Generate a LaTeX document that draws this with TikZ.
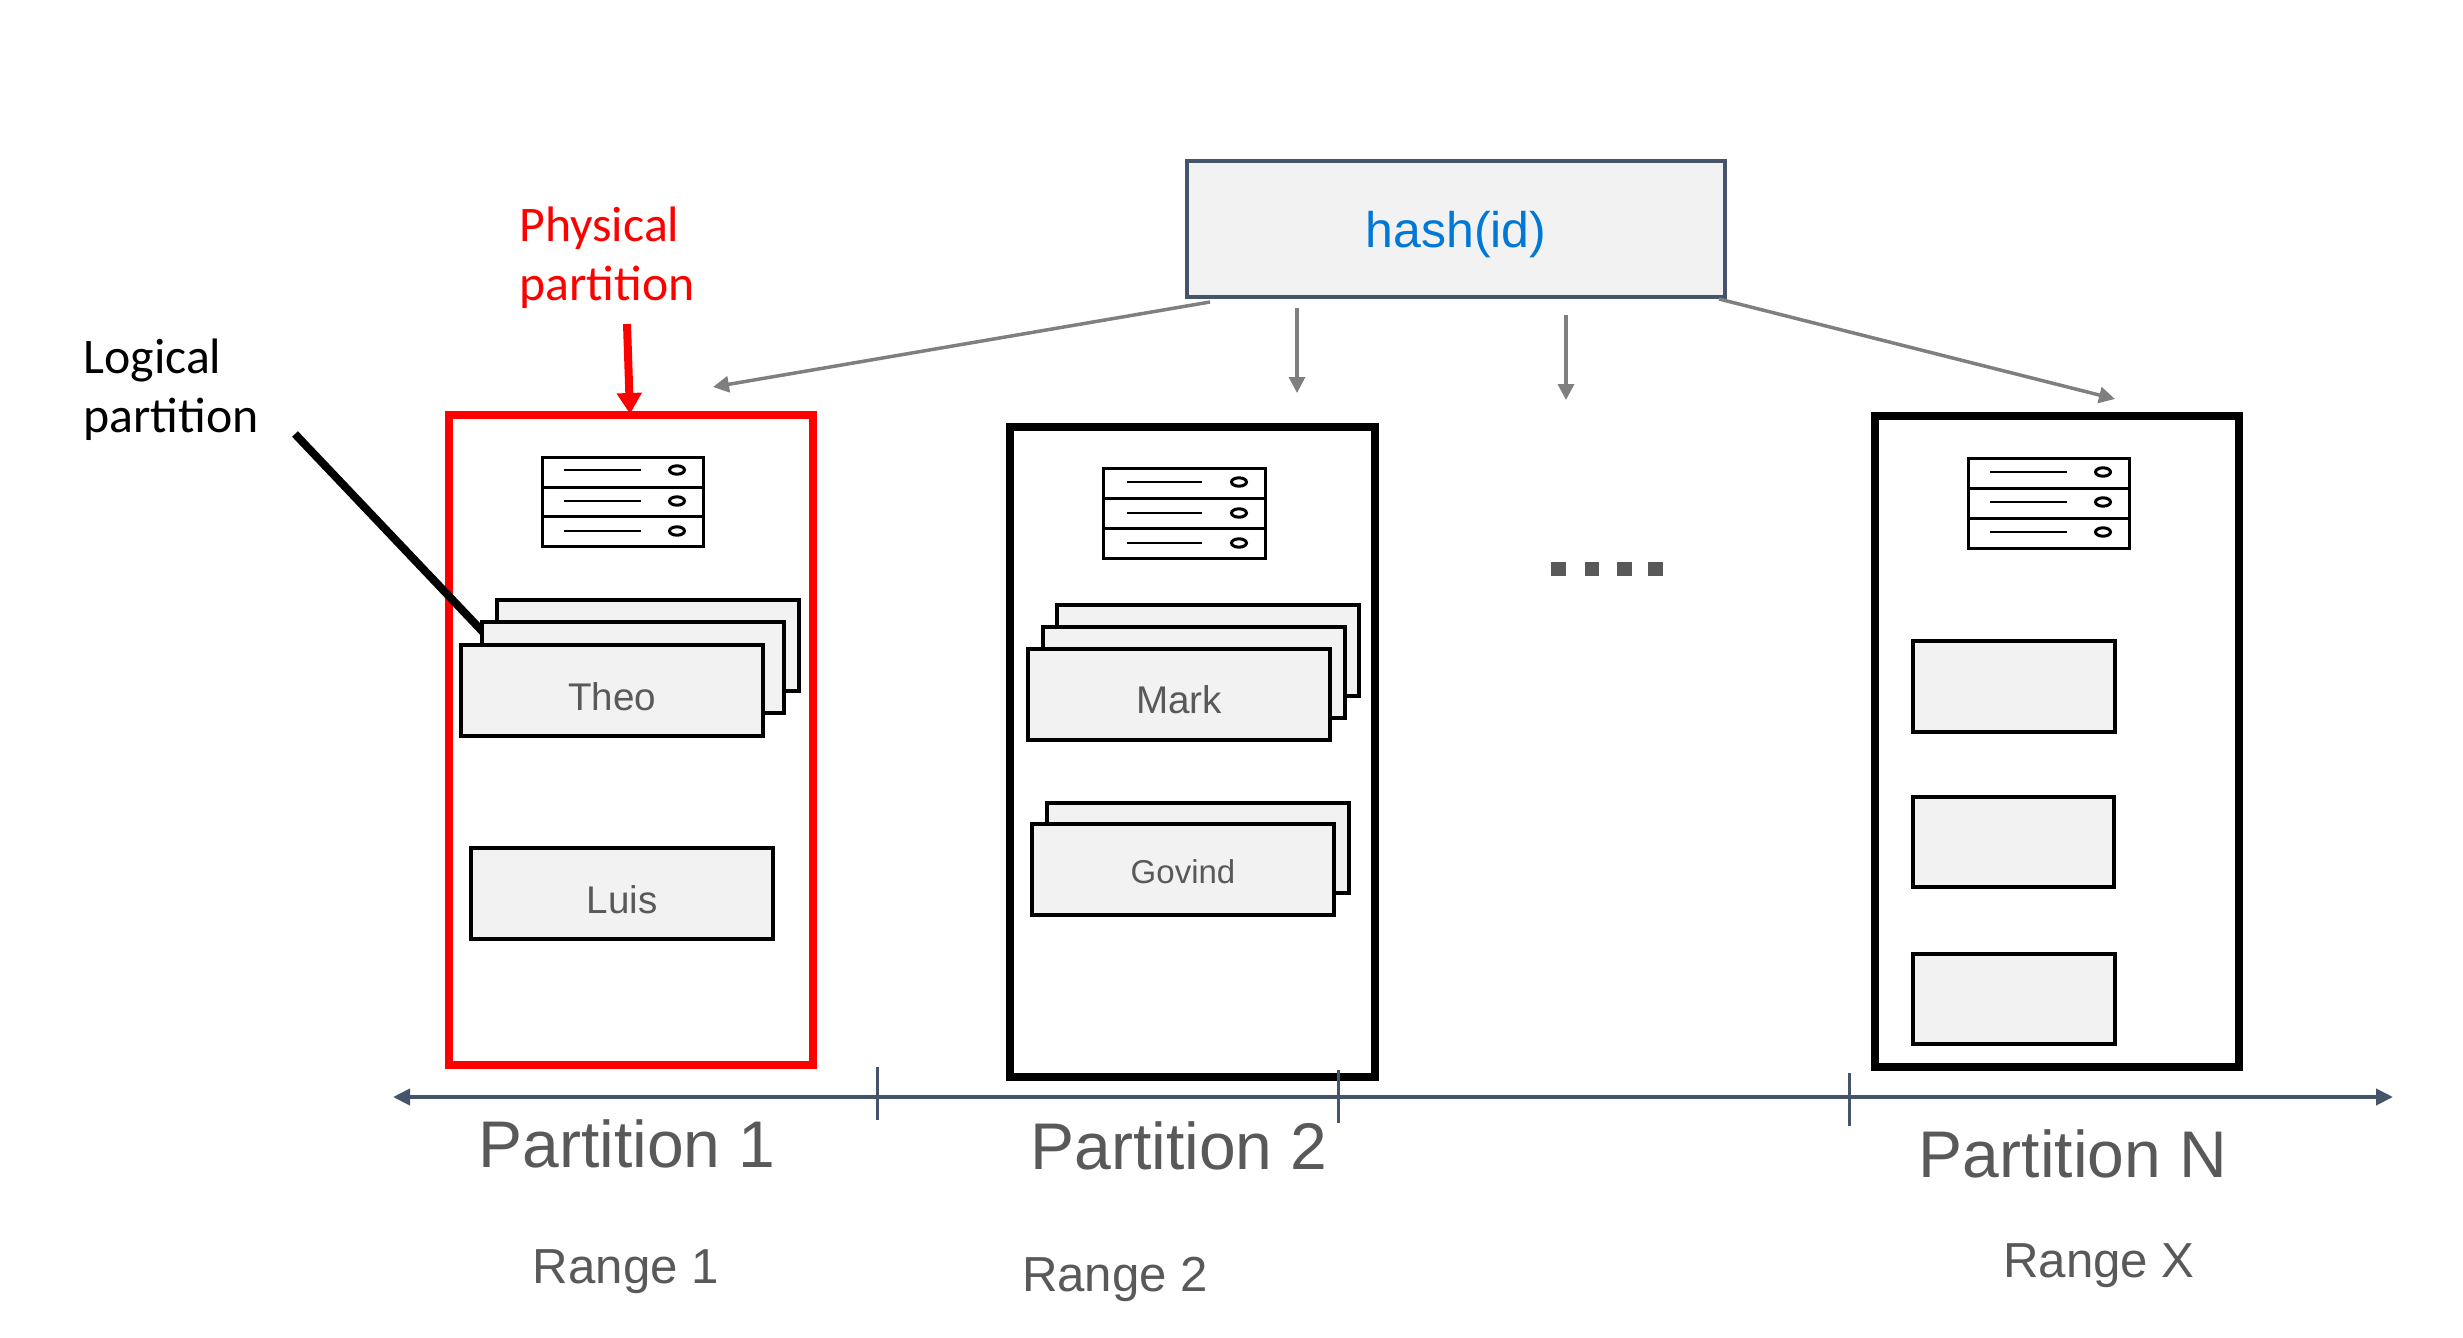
\documentclass[tikz,border=0pt]{standalone}
\usepackage{fontspec}
\setmainfont{Liberation Sans}
\newfontfamily\calfont{Carlito}
\usetikzlibrary{arrows.meta}
\definecolor{boxfill}{HTML}{F2F2F2}
\definecolor{slate}{HTML}{44546A}
\definecolor{txtgray}{HTML}{595959}
\definecolor{arrowgray}{HTML}{7F7F7F}
\definecolor{hashblue}{HTML}{0078D7}
\tikzset{
  rectbase/.style={rectangle,inner sep=0pt,outer sep=0pt,text height=0pt,text depth=0pt},
  partred/.style={draw=red,line width=4pt},
  partblack/.style={draw=black,line width=4pt},
  lpbox/.style={draw=black,fill=boxfill,line width=2pt,text=txtgray,font=\fontsize{19.3}{23}\selectfont},
  srvbox/.style={draw=black,fill=white,line width=1.5pt},
  hashbox/.style={draw=slate,fill=boxfill,line width=2pt,text=hashblue,font=\fontsize{25}{30}\selectfont},
  dotbox/.style={fill=txtgray},
  srvline/.style={draw=black,line width=1.4pt},
  srvled/.style={draw=black,line width=1.5pt},
  routearrow/.style={draw=arrowgray,line width=1.75pt,-{Triangle[length=8pt,width=8pt]}},
  axisline/.style={draw=slate,line width=2pt,{Triangle[length=8.5pt,width=8pt]}-{Triangle[length=8.5pt,width=8pt]}},
  tickline/.style={draw=slate,line width=1.5pt},
  partlabel/.style={anchor=base,text=txtgray,font=\fontsize{33}{39}\selectfont,inner sep=0pt},
  rangelabel/.style={anchor=base,text=txtgray,font=\fontsize{24.6}{29}\selectfont,inner sep=0pt},
  calllabel/.style={anchor=north west,align=left,inner sep=0pt,font=\calfont\fontsize{24.9}{29.5}\selectfont}
}
\newcommand\rectnode[7][]{%
  \node[rectbase,#2,#1,minimum width={(#5-#3)*0.5pt},minimum height={(#6-#4)*0.5pt}]
    at ({(#3+#5)/2},{(#4+#6)/2}) {#7};}
\newcommand\lift[2]{\raisebox{\dimexpr -#1pt/2\relax}{#2}}
\newcommand\srvrow[4]{%
  \draw[srvline] (#1,#4) -- (#2,#4);
  \draw[srvled] (#3,#4) ellipse (7.5 and 4.2);}
\begin{document}
\begin{tikzpicture}[x=0.5pt,y=-0.5pt]
\useasboundingbox (0,0) rectangle (2463,1338);
% partition frames
\rectnode[name=physone]{partred}{449}{415}{813}{1065}{}
\rectnode[name=phystwo]{partblack}{1010}{427}{1375}{1077}{}
\rectnode[name=physn]{partblack}{1875}{416}{2239}{1067}{}
% hash box
\rectnode[name=hash]{hashbox}{1187}{161}{1725}{297}{\lift{18}{hash(id)}}
% routing arrows
\coordinate (hashA) at (1210,302);
\coordinate (hashB) at (1297,308);
\coordinate (hashC) at (1566,315);
\coordinate (hashD) at (1719,299);
\coordinate (toA) at (713,387);
\coordinate (toB) at (1297,393);
\coordinate (toC) at (1566,400);
\coordinate (toD) at (2115,399);
\draw[routearrow] (hashA) -- (toA);
\draw[routearrow] (hashB) -- (toB);
\draw[routearrow] (hashC) -- (toC);
\draw[routearrow] (hashD) -- (toD);
% callouts
\node[calllabel,text=red] (physlabel) at (519,207) {Physical\\partition};
\node[calllabel,text=black] (loglabel) at (83,339) {Logical\\partition};
\coordinate (physfrom) at (627,324);
\coordinate (phystip) at (630,414);
\draw[draw=red,line width=4pt,-{Triangle[length=10.5pt,width=12pt]}] (physfrom) -- (phystip);
\coordinate (logfrom) at (295,434);
\coordinate (logto) at (483,632);
\draw[draw=black,line width=4pt] (logfrom) -- (logto);
% server 1
\rectnode[name=sa1]{srvbox}{542}{457}{703}{487}{}
\rectnode[name=sa2]{srvbox}{542}{487}{703}{516}{}
\rectnode[name=sa3]{srvbox}{542}{516}{703}{546}{}
\srvrow{564}{641}{677}{470}
\srvrow{564}{641}{677}{501}
\srvrow{564}{641}{677}{531}
% server 2
\rectnode[name=sb1]{srvbox}{1103}{468}{1265}{498}{}
\rectnode[name=sb2]{srvbox}{1103}{498}{1265}{528}{}
\rectnode[name=sb3]{srvbox}{1103}{528}{1265}{558}{}
\srvrow{1127}{1202}{1239}{482}
\srvrow{1127}{1202}{1239}{513}
\srvrow{1127}{1202}{1239}{543}
% server N
\rectnode[name=sc1]{srvbox}{1968}{458}{2129}{488}{}
\rectnode[name=sc2]{srvbox}{1968}{488}{2129}{518}{}
\rectnode[name=sc3]{srvbox}{1968}{518}{2129}{548}{}
\srvrow{1990}{2067}{2103}{472}
\srvrow{1990}{2067}{2103}{502}
\srvrow{1990}{2067}{2103}{532}
% logical partitions, partition 1
\rectnode[name=theoC]{lpbox}{497}{600}{799}{691}{}
\rectnode[name=theoB]{lpbox}{482}{622}{784}{713}{}
\rectnode[name=theoA]{lpbox}{461}{645}{763}{736}{\lift{19.5}{Theo}}
\rectnode[name=luis]{lpbox}{471}{848}{773}{939}{\lift{19.5}{Luis}}
% logical partitions, partition 2
\rectnode[name=markC]{lpbox}{1057}{605}{1359}{696}{}
\rectnode[name=markB]{lpbox}{1043}{627}{1345}{718}{}
\rectnode[name=markA]{lpbox}{1028}{649}{1330}{740}{\lift{18.5}{Mark}}
\rectnode[name=govB]{lpbox}{1047}{803}{1349}{893}{}
\rectnode[name=govA,font=\fontsize{16.5}{20}\selectfont]{lpbox}{1032}{824}{1334}{915}{\lift{13.5}{Govind}}
% logical partitions, partition N
\rectnode[name=na]{lpbox}{1913}{641}{2115}{732}{}
\rectnode[name=nb]{lpbox}{1913}{797}{2114}{887}{}
\rectnode[name=nc]{lpbox}{1913}{954}{2115}{1044}{}
% ellipsis squares
\rectnode[name=dota]{dotbox}{1551}{562}{1566}{576}{}
\rectnode[name=dotb]{dotbox}{1585}{562}{1599}{576}{}
\rectnode[name=dotc]{dotbox}{1617}{562}{1632}{576}{}
\rectnode[name=dotd]{dotbox}{1648}{562}{1663}{576}{}
% axis
\coordinate (axisL) at (393,1097);
\coordinate (axisR) at (2393,1097);
\draw[axisline] (axisL) -- (axisR);
\coordinate (tA1) at (877,1067); \coordinate (tA2) at (877,1120);
\coordinate (tB1) at (1338,1070); \coordinate (tB2) at (1338,1123);
\coordinate (tC1) at (1849,1073); \coordinate (tC2) at (1849,1126);
\draw[tickline] (tA1) -- (tA2);
\draw[tickline] (tB1) -- (tB2);
\draw[tickline] (tC1) -- (tC2);
% labels
\node[partlabel] (pl1) at (627,1167) {Partition 1};
\node[partlabel] (pl2) at (1179,1169) {Partition 2};
\node[partlabel] (pln) at (2073,1177) {Partition N};
\node[rangelabel] (rl1) at (626,1283) {Range 1};
\node[rangelabel] (rl2) at (1115,1291) {Range 2};
\node[rangelabel] (rln) at (2099,1277) {Range X};
\end{tikzpicture}
\end{document}
